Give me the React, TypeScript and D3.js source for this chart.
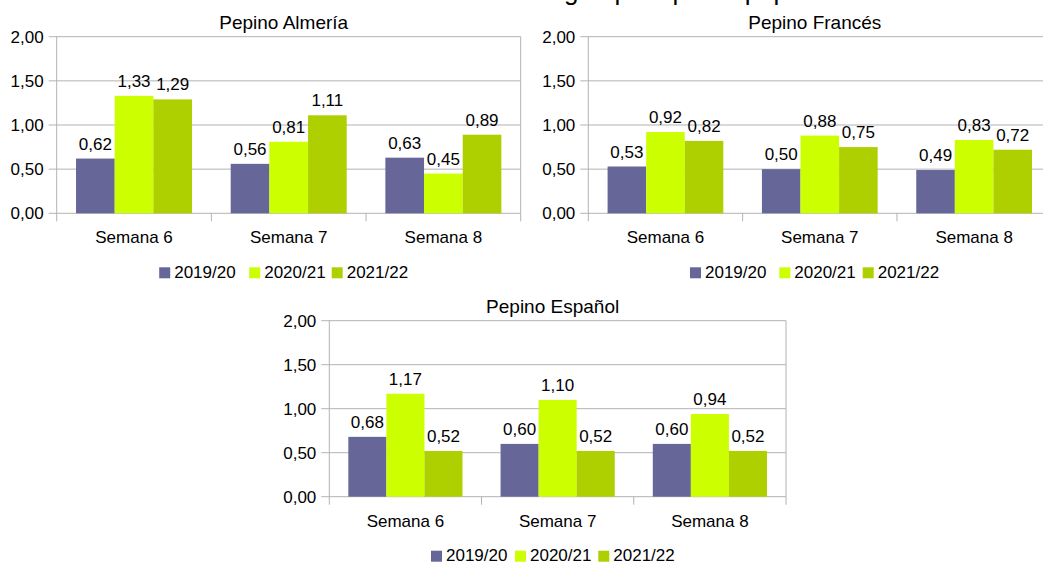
import React from "react";
import * as d3 from "d3";

const categories = ["Semana 6", "Semana 7", "Semana 8"];
const seasons = ["2019/20", "2020/21", "2021/22"];
const seasonColors = ["#666699", "#ccff00", "#afd000"];
const yTicks = [0, 0.5, 1, 1.5, 2];

// values per season, one entry per week
const almeria = [
  [0.62, 0.56, 0.63],
  [1.33, 0.81, 0.45],
  [1.29, 1.11, 0.89],
];
const frances = [
  [0.53, 0.5, 0.49],
  [0.92, 0.88, 0.83],
  [0.82, 0.75, 0.72],
];
const espanol = [
  [0.68, 0.6, 0.6],
  [1.17, 1.1, 0.94],
  [0.52, 0.52, 0.52],
];

const pageTitle = "Precios medios en origen por tipo de pepino";

const FONT = "'Liberation Sans', Arial, sans-serif";
const GRID = "#b3b3b3";
const fmt = (v: number) => d3.format(".2f")(v).replace(".", ",");

interface PanelProps {
  title: string;
  values: number[][];
  left: number;
  top: number;
  width: number;
  height: number;
  legendAt: number[];
}

const Panel: React.FC<PanelProps> = ({ title, values, left, top, width, height, legendAt }) => {
  const x = d3.scaleBand().domain(categories).range([left, left + width]);
  const bw = x.bandwidth();
  const inner = d3
    .scaleBand()
    .domain(seasons)
    .range([bw * 0.125, bw * 0.875]);
  const y = d3.scaleLinear().domain([0, 2]).range([top + height, top]);
  const bottom = top + height;
  const cx = left + width / 2;

  return (
    <g fontFamily={FONT} fill="#000">
      <text x={cx - 5} y={top - 8} fontSize={19} textAnchor="middle">
        {title}
      </text>
      {yTicks.map((t) => (
        <g key={t}>
          <line x1={left - 8} x2={left + width} y1={y(t)} y2={y(t)} stroke={GRID} strokeWidth={1} />
          <text x={left - 13} y={y(t) + 6} fontSize={17} textAnchor="end">
            {fmt(t)}
          </text>
        </g>
      ))}
      <line x1={left} x2={left} y1={top} y2={bottom} stroke={GRID} />
      <line x1={left + width} x2={left + width} y1={top} y2={bottom + 8} stroke={GRID} />
      {categories.map((c) => (
        <line key={"t" + c} x1={x(c)!} x2={x(c)!} y1={bottom} y2={bottom + 8} stroke={GRID} />
      ))}
      {categories.map((c, ci) =>
        seasons.map((s, si) => {
          const v = values[si][ci];
          const bx = x(c)! + inner(s)!;
          return (
            <g key={c + s}>
              <rect
                x={bx}
                y={y(v)}
                width={inner.bandwidth()}
                height={bottom - y(v)}
                fill={seasonColors[si]}
              />
              <text x={bx + inner.bandwidth() / 2} y={y(v) - 9} fontSize={17} textAnchor="middle">
                {fmt(v)}
              </text>
            </g>
          );
        })
      )}
      {categories.map((c) => (
        <text key={"l" + c} x={x(c)! + bw / 2} y={bottom + 30} fontSize={17} textAnchor="middle">
          {c}
        </text>
      ))}
      {seasons.map((s, si) => {
        const lx = left + legendAt[si];
        return (
          <g key={"lg" + s}>
            <rect x={lx} y={bottom + 54} width={11} height={11} fill={seasonColors[si]} />
            <text x={lx + 15} y={bottom + 64.5} fontSize={17}>
              {s}
            </text>
          </g>
        );
      })}
    </g>
  );
};

export default function App() {
  return (
    <svg
      width={1043}
      height={563}
      style={{ position: "absolute", left: 0, top: 0, background: "#fff" }}
    >
      <rect width={1043} height={563} fill="#fff" />
      <text x={314} y={-0.5} fontSize={26} fontFamily={FONT} fill="#000">
        {pageTitle}
      </text>
      <Panel
        title="Pepino Almería"
        values={almeria}
        left={56.7}
        top={36.7}
        width={464}
        height={176.6}
        legendAt={[102.5, 192.5, 275]}
      />
      <Panel
        title="Pepino Francés"
        values={frances}
        left={588.3}
        top={36.7}
        width={463}
        height={176.6}
        legendAt={[101.7, 191, 274.4]}
      />
      <Panel
        title="Pepino Español"
        values={espanol}
        left={329.3}
        top={320.7}
        width={456.7}
        height={176}
        legendAt={[101.7, 185.7, 269]}
      />
    </svg>
  );
}
